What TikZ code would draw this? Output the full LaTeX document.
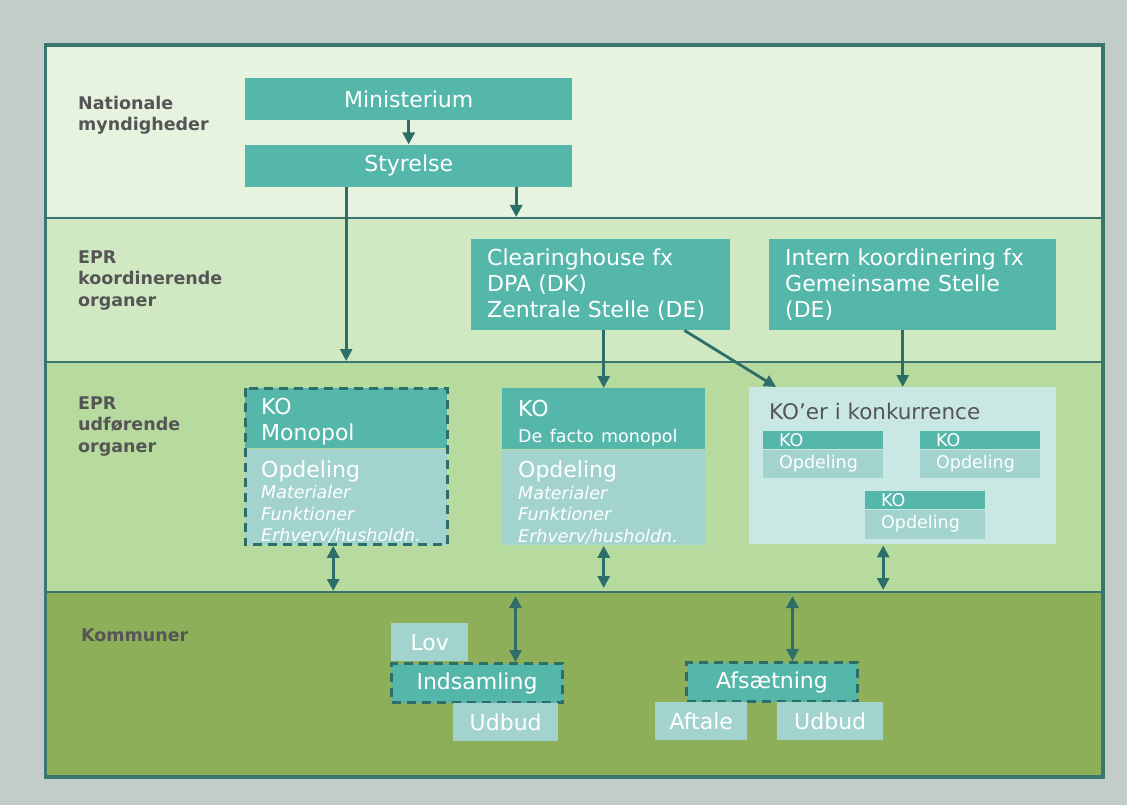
\documentclass[tikz,border=0pt]{standalone}
\usepackage{fontspec}
\setmainfont{DejaVu Sans}
\usetikzlibrary{arrows.meta, positioning}

\definecolor{bggrey}{HTML}{C2CDC9}
\definecolor{frameteal}{HTML}{3B7570}
\definecolor{bandA}{HTML}{E6F3DE}
\definecolor{bandB}{HTML}{D0E9C2}
\definecolor{bandC}{HTML}{B7DB9E}
\definecolor{bandD}{HTML}{8DAF5A}
\definecolor{kodark}{HTML}{55B6AA}
\definecolor{kolight}{HTML}{A3D3CE}
\definecolor{kopale}{HTML}{C9E7E3}
\definecolor{arrowteal}{HTML}{2E6E69}
\definecolor{labelgrey}{HTML}{555555}

\begin{document}
\begin{tikzpicture}[
  x=1pt, y=-1pt,
  band/.style={rectangle, draw=frameteal, line width=2pt, inner sep=0pt, minimum width=1056pt, anchor=north west},
  lvllabel/.style={anchor=west, align=left, inner sep=0pt, text=labelgrey, font=\bfseries\fontsize{17.5}{21.5}\selectfont},
  darkbox/.style={rectangle, fill=kodark, text=white, inner sep=0pt, anchor=north west, font=\fontsize{22}{26}\selectfont},
  lightbox/.style={darkbox, fill=kolight},
  leftbox/.style={inner xsep=16pt, inner ysep=0pt, align=left},
  smallko/.style={darkbox, minimum width=120pt, text width=88pt, inner xsep=16pt, align=left, font=\fontsize{17.5}{20}\selectfont},
  dashbox/.style={draw=arrowteal, line width=3pt, dash pattern=on 9pt off 6pt},
  arrowline/.style={draw=arrowteal, line width=2.8pt, -{Triangle[length=12pt,width=12pt]}},
  dblarrow/.style={draw=arrowteal, line width=2.8pt, {Triangle[length=12pt,width=12pt]}-{Triangle[length=12pt,width=12pt]}}
]
\useasboundingbox[fill=bggrey] (0,0) rectangle (1127,805);

% Bands
\node[band, fill=bandA, minimum height=172pt] (national) at (45,45) {};
\node[band, fill=bandB, minimum height=144pt] (koord) at (45,217) {};
\node[band, fill=bandC, minimum height=230pt] (udfoer) at (45,361) {};
\node[band, fill=bandD, minimum height=184pt] (kommuner) at (45,591) {};
\draw[frameteal, line width=3pt] (national.north west) rectangle (kommuner.south east);

\node[lvllabel] (lblnat) at (78,115) {Nationale\\myndigheder};
\node[lvllabel] (lblkoord) at (78,280.5) {EPR\\koordinerende\\organer};
\node[lvllabel] (lbludf) at (78,426.5) {EPR\\udførende\\organer};
\node[lvllabel] (lblkom) at (81,635) {Kommuner};

% National
\node[darkbox, minimum width=327pt, minimum height=42pt] (minister) at (245,78) {Ministerium};
\node[darkbox, minimum width=327pt, minimum height=42pt, below=24pt of minister] (styrelse) {Styrelse};

% Koordinerende
\node[darkbox, leftbox, text width=227pt, minimum height=91pt] (clearing) at (471,239) {Clearinghouse fx\\DPA (DK)\\Zentrale Stelle (DE)};
\node[darkbox, leftbox, text width=255pt, minimum height=91pt] (intern) at (769,239) {Intern koordinering fx\\Gemeinsame Stelle\\(DE)};

% Udfoerende
\node[darkbox, leftbox, text width=170pt, minimum height=60pt] (mono) at (245,388) {\rule{0pt}{24pt}KO\\Monopol};
\node[lightbox, leftbox, text width=170pt, minimum height=96pt, below=0pt of mono, font=\fontsize{17.5}{21.5}\selectfont] (monodel)
  {{\fontsize{22}{24}\selectfont\rule{0pt}{27pt}Opdeling}\\\itshape Materialer\\\itshape Funktioner\\\itshape Erhverv/husholdn.};
\draw[dashbox] (mono.north west) rectangle (monodel.south east);

\node[darkbox, leftbox, text width=171pt, minimum height=61pt] (defacto) at (502,388) {\rule{0pt}{26pt}KO\\{\fontsize{17.5}{20}\selectfont De facto monopol}};
\node[lightbox, leftbox, text width=171pt, minimum height=95pt, below=0pt of defacto, font=\fontsize{17.5}{21.5}\selectfont] (defactodel)
  {{\fontsize{22}{24}\selectfont\rule{0pt}{27pt}Opdeling}\\\itshape Materialer\\\itshape Funktioner\\\itshape Erhverv/husholdn.};

\node[darkbox, fill=kopale, minimum width=307pt, minimum height=157pt] (koerbox) at (749,387) {};
\node[anchor=west, inner sep=0pt, text=labelgrey, font=\fontsize{21.5}{24}\selectfont] (koertitle) at (769,411) {KO’er i konkurrence};
\node[smallko, minimum height=18pt] (koa) at (763,431) {KO};
\node[smallko, fill=kolight, minimum height=28pt, below=0pt of koa] (opda) {Opdeling};
\node[smallko, minimum height=18pt] (kob) at (920,431) {KO};
\node[smallko, fill=kolight, minimum height=28pt, below=0pt of kob] (opdb) {Opdeling};
\node[smallko, minimum height=18pt] (koc) at (865,491) {KO};
\node[smallko, fill=kolight, minimum height=29pt, below=0pt of koc] (opdc) {Opdeling};

% Kommuner
\node[lightbox, minimum width=77pt, minimum height=38pt] (lov) at (391,623) {Lov};
\node[darkbox, dashbox, minimum width=171pt, minimum height=39pt] (indsaml) at (390,662) {Indsamling};
\node[lightbox, minimum width=105pt, minimum height=38pt] (udbuda) at (453,703) {Udbud};
\node[darkbox, dashbox, minimum width=171pt, minimum height=39pt] (afsaet) at (685,661) {Afsætning};
\node[lightbox, minimum width=92pt, minimum height=38pt] (aftale) at (655,702) {Aftale};
\node[lightbox, minimum width=106pt, minimum height=38pt] (udbudb) at (777,702) {Udbud};

% Arrows
\draw[arrowline] (minister) -- (styrelse);
\draw[arrowline] ([xshift=-62.5pt]styrelse.south) -- ([xshift=-62.5pt]styrelse.south |- udfoer.north);
\draw[arrowline] ([xshift=107.5pt]styrelse.south) -- ([xshift=107.5pt]styrelse.south |- koord.north);
\draw[arrowline] (clearing.south -| defacto.north) -- (defacto.north);
\draw[arrowline] ([xshift=-46pt]clearing.south east) -- ([xshift=27pt]koerbox.north west);
\draw[arrowline] (intern.south -| koerbox.north) -- (koerbox.north);

\draw[dblarrow] ([xshift=-13pt,yshift=-1pt]monodel.south) -- ([xshift=-13pt]monodel.south |- kommuner.north);
\draw[dblarrow] ([yshift=-1pt]defactodel.south) -- ([yshift=3pt]defactodel.south |- kommuner.north);
\draw[dblarrow] ([xshift=-19.5pt,yshift=-1pt]koerbox.south) -- ([xshift=-19.5pt,yshift=1pt]koerbox.south |- kommuner.north);
\draw[dblarrow] ([xshift=38.5pt]indsaml.north) -- ([xshift=38.5pt,yshift=-5pt]indsaml.north |- kommuner.north);
\draw[dblarrow] ([xshift=20.5pt]afsaet.north) -- ([xshift=20.5pt,yshift=-5pt]afsaet.north |- kommuner.north);

\end{tikzpicture}
\end{document}
